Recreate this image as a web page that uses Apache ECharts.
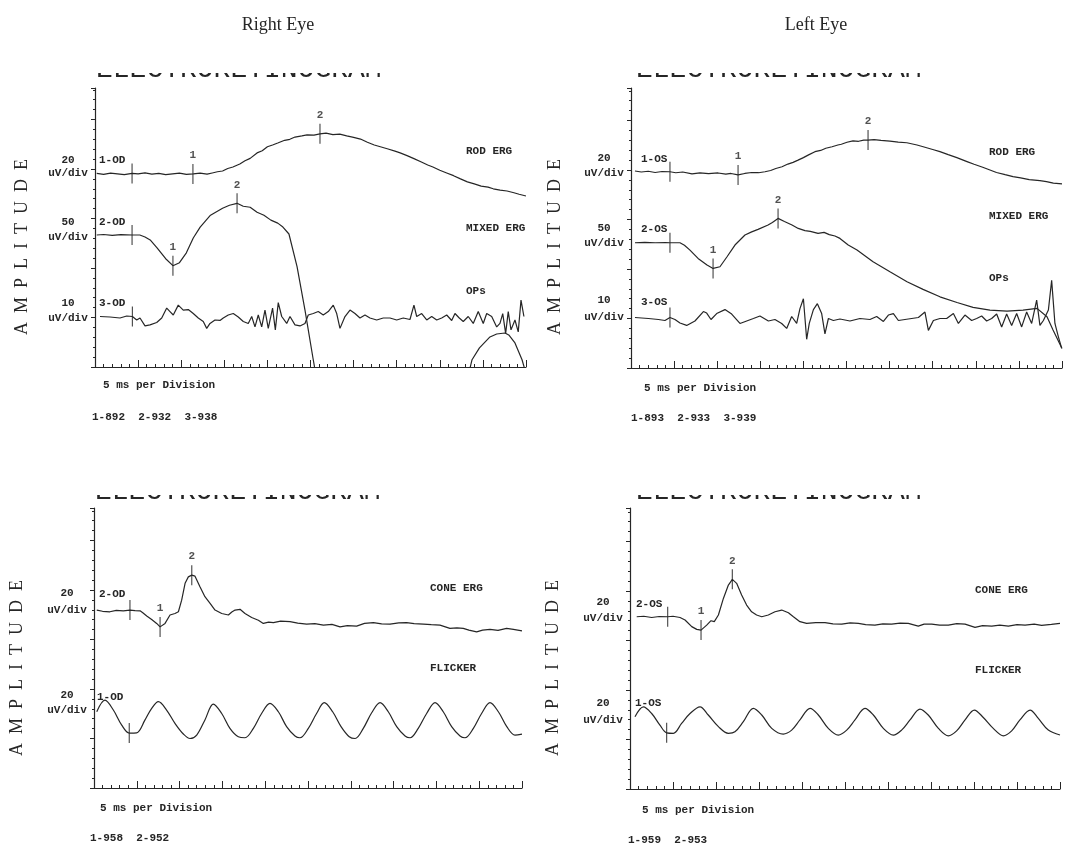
<!DOCTYPE html>
<html>
<head>
<meta charset="utf-8">
<title>ERG</title>
<script src="https://cdn.jsdelivr.net/npm/echarts@6/dist/echarts.min.js"></script>
<style>
  html, body { margin: 0; background: #fff; }
  #chart { width: 1066px; height: 850px; }
</style>
</head>
<body>
<div id="chart"></div>
<script>
// time in ms, amplitude in uV relative to the trace baseline

// Right eye, scotopic
const rodOD = [[1,0.2],[5,-0.2],[9,0.3],[13,0],[17,-0.3],[21.5,0.2],[25,0],[29,0.4],[33,-0.1],[37,0.2],[41,-0.3],[45,0],[49,0.3],[53,-0.2],[57,0],[61,0.3],[65,-0.1],[68,0.4],[71,0.9],[74,1.2],[77,2.2],[80,2.8],[84,4.0],[87,5.3],[90,6.3],[94,8.5],[97,9.4],[100,11],[103,11.7],[106,12.5],[110,13.6],[113,14],[116,14.9],[120,15.4],[123,15.8],[127,15.7],[130.5,16.2],[134,16.5],[138,15.9],[142,16.1],[146,15.4],[150,14.8],[154,14.1],[158,12.8],[162,11.7],[166,10.9],[170,10.1],[174,9.2],[177,8.5],[181,7.4],[185,6.2],[189,4.9],[193,3.6],[196,2.8],[200,1.5],[204,0.4],[208,-0.7],[212,-2.0],[216,-3.2],[220,-4.0],[224,-4.9],[228,-5.3],[231,-6.0],[235,-6.5],[239,-6.9],[243,-7.6],[246,-8.2],[250,-8.9]];
const mixedOD = [[1,0],[5,0.5],[10,-0.3],[15,0.3],[21.5,0],[26,0],[29,-2],[32,-5],[36,-13],[41,-24],[45.2,-31],[49,-28],[53,-18],[57,-3],[61,8],[67,20],[74,27],[78,30],[82.4,32],[86,29],[90,28],[94,23],[98,20],[102,15],[106,12],[109,8],[112.5,1],[117.2,-32],[121.8,-76],[126.5,-125],[129,-150],[170,-300],[214,-160],[218.7,-126],[223,-114],[229.1,-103],[233,-100],[237.8,-99],[240,-101],[243.6,-109],[247.7,-126],[250,-140]];
const opsOD = [[2.9,0.1],[8.7,0],[14.5,-0.2],[18.4,0.2],[21.7,0.1],[24.2,-0.6],[26.1,-0.2],[29,-1.8],[31.9,-1.6],[35.8,-1.1],[38.7,-0.2],[41.6,1.8],[43.5,1.1],[45.4,0.4],[48.3,2.4],[51.2,1.4],[54.1,1.5],[57,0.7],[59.9,-0.2],[62.8,-0.9],[64.8,-2.3],[66.7,-1.3],[69.6,-0.6],[72.5,-0.7],[74.4,-0.2],[77.3,0.4],[80.2,0.7],[83.1,0],[86,-0.9],[88.9,-1.3],[90.9,0.1],[92.8,-2.0],[94.7,0.4],[96.7,-2.0],[98.6,1.4],[100.5,-2.3],[103,1.8],[104.6,-2.6],[106.3,2.9],[108.3,0.1],[111.2,-1.3],[113.1,0.1],[116,-1.6],[118.9,-1.8],[121.8,-1.3],[123.7,0.4],[126.6,0.7],[129.5,1.1],[132.4,0.4],[135.3,1.1],[138.2,2.4],[140.2,0.7],[142.1,-2.3],[145,0.1],[147.9,1.4],[150.8,0.7],[153.7,-0.2],[156.6,0.4],[159.5,-0.2],[163.4,-0.6],[167.2,-0.2],[171.1,-0.2],[175,-0.6],[178.8,-0.2],[182.7,-0.5],[185,2.4],[186.6,0.1],[189.5,0.7],[192.4,-0.6],[195.3,0.1],[198.2,-0.6],[201.1,-0.2],[204,0.4],[206.9,-0.7],[208.8,0.7],[211.3,-0.2],[213.6,-0.9],[216.5,0.1],[219.4,-1.3],[222.3,1.1],[225.2,-1.3],[227.2,0.7],[230.1,0.1],[233,-2.0],[234.9,-1.3],[236.5,0.7],[238.2,-3.3],[239.7,1.1],[241.3,-2.6],[243.6,-0.6],[245.5,-3.0],[247.1,3.4],[248.8,0.1]];

// Left eye, scotopic
const rodOS = [[2.3,0.4],[6,0],[10,0.3],[14,-0.2],[18,0.2],[22.6,0.1],[26,-0.3],[30,0],[35.4,-0.8],[40,-0.4],[45,-0.7],[50.5,-0.4],[55,-0.9],[58,-0.6],[62.1,-1.2],[66,-0.6],[70,-0.2],[74,-0.3],[77.7,0.1],[81,0.6],[84,1.4],[87.6,2.1],[91,3.2],[94,3.9],[96.9,4.8],[100,5.8],[103,6.9],[106.7,8.2],[110,8.7],[113,9.6],[116.6,10.2],[120,10.9],[122,11.2],[125.3,12],[128.8,12.6],[132,12.4],[135,12.9],[137.5,12.9],[141,13.1],[145,12.8],[150.2,12.5],[155,12.1],[160,11.8],[165.9,10.9],[170,10.1],[175,9.1],[179.2,8.2],[184,7.0],[189,5.8],[194.9,4.2],[199,3.1],[204,1.9],[208.2,0.8],[212,-0.2],[217,-1.1],[221.6,-1.9],[226,-2.4],[231,-3.1],[237.2,-3.5],[241,-3.9],[245,-4.5],[250,-4.8]];
const mixedOS = [[2.3,0],[8,0.3],[14,0],[20,0.2],[22.6,0],[28.4,0],[31,-2.5],[34.2,-7.4],[38.9,-15.8],[44.1,-22.5],[47.6,-25.9],[51.6,-24.2],[55.7,-14.1],[60.3,-2.3],[66.1,7.8],[70,11],[73.7,13.5],[79.5,17.9],[82,20.5],[85.3,24.6],[89,21.5],[93.4,17.9],[97,14.5],[100.9,12.2],[104,11.5],[108.5,9.5],[112,10.5],[115,8.2],[118.3,6.8],[121.2,4.4],[126,-2.3],[131.1,-7.4],[140.4,-19.2],[150.2,-29.3],[160.1,-39.4],[169.4,-47.1],[179.2,-54.6],[189.1,-60.3],[198.4,-65.3],[208.2,-68.0],[218.1,-69.0],[227.4,-68.0],[235.5,-66.3],[241.3,-74.7],[244.8,-88.2],[250,-106.7]];
const opsOS = [[2.3,0],[10.1,-0.2],[15.9,-0.4],[19.7,-0.6],[22.6,0],[25.5,-0.4],[28.4,-1.1],[32.3,-1.6],[37.1,-0.7],[42,1.2],[43.9,0.9],[46.4,-0.4],[49.7,0.8],[54.5,1.6],[58.4,0.7],[63.2,-1.2],[67.1,-0.7],[71,-0.2],[74.8,0.3],[79.7,-0.7],[83.5,-0.4],[87.4,-1.2],[90.3,-2.2],[93.2,0.2],[96.1,-1.2],[98,1.8],[100,3.8],[101.9,-4.4],[103.4,-1.2],[105.8,1.6],[108.1,2.8],[110.6,0.8],[112.5,-3.3],[114.5,-0.2],[117.4,-0.6],[121.2,-0.3],[127,-0.7],[132.8,-0.2],[138.6,-0.4],[142.5,0.2],[146.4,-0.8],[149.3,0.5],[152.2,0.8],[155.1,-0.6],[158.9,-0.4],[162.8,-0.2],[166.7,0],[170.5,1.1],[172.5,-2.6],[175.4,-0.6],[179.2,-0.2],[183.1,-0.2],[187,0.8],[189.9,-1.2],[193.7,0.5],[197.6,-0.6],[200.5,-0.2],[203.4,0.3],[206.3,-0.7],[209.2,-0.2],[212.1,0.7],[215,-1.9],[217.9,0.7],[220.8,-1.6],[223.7,0.8],[226.6,-1.9],[229.5,1.1],[232.4,-1.2],[235.3,3.5],[237.2,-1.6],[239.2,-0.6],[242.1,1.5],[244,7.5],[245.9,-1.2],[247.9,-3.9],[249.8,-6.2]];

// Right eye, photopic
const coneOD = [[1.6,0.3],[5,-0.2],[9.3,-0.4],[13,0.2],[17.1,0],[21,0.3],[24,0.1],[26.9,0],[28.5,-0.8],[30.8,-2.1],[33.7,-3.5],[36.6,-5.1],[38.6,-6.5],[41.5,-5.1],[44.4,-1.7],[47.3,-1.1],[49.3,-0.4],[51.2,4.3],[53.2,11.1],[55.1,13.7],[57.1,14.4],[59,14],[61.9,9.7],[64.8,5.7],[67.8,3],[70.7,0.3],[74.6,-1.1],[78.5,-1.7],[80.5,-0.5],[82.4,0.3],[85.3,0.6],[88.2,-1.1],[92.1,-2.7],[96,-3.8],[98.9,-5.1],[102,-4.6],[104.8,-4.8],[109,-4.2],[114.5,-4.4],[119,-5.0],[124.2,-5.4],[129,-5.2],[134,-5.8],[139,-5.5],[143.7,-6.5],[148,-6.0],[153.4,-6.2],[158,-5.1],[163.2,-4.8],[168,-5.3],[172.9,-5.4],[178,-4.9],[182.6,-4.8],[187,-5.2],[192.4,-5.4],[197,-5.6],[202.1,-5.8],[207.9,-7.1],[212,-6.9],[215.7,-7.1],[219,-7.8],[223.5,-8.5],[227,-7.8],[231.3,-7.5],[236,-7.9],[241,-7.1],[245,-7.5],[250,-8.1]];
const flickerOD = [[1.6,8.6],[6.4,13.3],[11.3,9.3],[16.2,3.2],[20.6,0],[24.9,0.1],[29.8,5.3],[33.7,10],[37.6,12.7],[42.4,9.3],[47.3,3.9],[52.2,-0.4],[56.1,-2.2],[60,-0.8],[64.8,5.3],[69.7,11.7],[74.6,7.9],[79.4,1.9],[84.3,-1.5],[88.2,-1.9],[93.1,1.9],[97.9,7.9],[102.8,12],[107.7,8.6],[112.5,2.6],[117.4,-1.2],[120.3,-1.9],[125.2,1.9],[130,7.9],[134.5,12.3],[139.4,8.6],[144.3,2.6],[149.1,-1.5],[152.5,-2.2],[157.3,1.9],[162.2,8.2],[167.1,12.3],[171.9,8.6],[176.8,2.6],[181.7,-1.2],[184.6,-1.9],[189.4,1.9],[194.3,7.9],[199.2,12.3],[204,8.6],[208.9,2.6],[213.8,-1.2],[216.7,-1.9],[221.6,1.9],[226.4,7.9],[231.3,12.3],[236.2,8.6],[241.1,2.6],[245.9,-0.8],[250,-0.4]];

// Left eye, photopic
const coneOS = [[3.9,0],[8,0.2],[12.6,-0.3],[17,0.1],[21.9,0],[25,0.2],[29.1,-0.3],[32,-1.3],[35.9,-4.0],[38.8,-5.1],[41.3,-5.4],[44.6,-3.4],[47.1,-1.6],[49,-2.0],[51.4,0.7],[54.3,7.4],[57.2,12.8],[59.5,15.1],[62,13.5],[64.9,8.8],[67.8,4.7],[70.7,2.0],[73.6,0.7],[76.6,0],[80.4,0.7],[84.3,2.0],[88.2,2.7],[92.1,1.6],[95,0],[98.8,-2.0],[102.7,-2.7],[108,-2.4],[113.4,-2.4],[118,-2.9],[123.1,-3.0],[128,-2.5],[132.8,-2.7],[137,-3.2],[142.4,-3.4],[147,-2.9],[152.1,-3.0],[157,-2.6],[161.8,-2.7],[167.6,-3.8],[171,-3.0],[175.4,-3.0],[180,-3.4],[185.1,-3.4],[190,-2.8],[194.8,-3.0],[200.6,-4.3],[205,-3.6],[210.3,-3.8],[215,-3.4],[220,-3.8],[225,-3.2],[229.7,-3.4],[235,-3.0],[239.3,-3.5],[245,-3.1],[250,-2.7]];
const flickerOS = [[2.9,6.6],[7.8,10.6],[12.6,7.9],[17.4,3.2],[21.3,0.1],[25.2,-0.1],[30,3.9],[34.9,7.9],[40.7,10.6],[45.5,7.3],[51.4,2.6],[57.2,-0.1],[61,0.5],[65.9,4.6],[71.7,10],[76.6,7.3],[82.4,1.9],[89.1,-0.4],[94,1.2],[98.8,5.3],[104.7,10],[109.5,7.3],[115.3,1.9],[121.1,-0.8],[126,1.2],[130.8,5.3],[136.6,10],[141.5,7.3],[147.3,1.9],[153.1,-0.8],[157.9,1.2],[162.8,5.3],[168.6,9.7],[173.4,7.3],[179.3,1.9],[185.1,-1.1],[189.9,0.9],[194.8,5.3],[200.2,9.3],[205.4,6.3],[211.2,1.9],[217.1,-1.1],[221.9,0.9],[226.7,5.3],[232.6,9.3],[237.4,5.9],[243.2,1.2],[250,-0.8]];

// cursor marks: stimulus, 1, 2
const markNames = ['', '1', '2'];
const rodODMarks = [[21.5,0.2],[56.8,0],[130.5,16.2]];
const mixedODMarks = [[21.5,0],[45.2,-31],[82.4,32]];
const opsODMarks = [[21.7,0.1]];
const rodOSMarks = [[22.6,0.1],[62.1,-1.2],[137.5,12.9]];
const mixedOSMarks = [[22.6,0],[47.6,-25.9],[85.3,24.6]];
const opsOSMarks = [[22.6,0]];
const coneODMarks = [[21,0.3],[38.6,-6.5],[57.1,14.4]];
const flickerODMarks = [[20.6,0]];
const coneOSMarks = [[21.9,0],[41.3,-5.4],[59.5,15.1]];
const flickerOSMarks = [[21.3,0.1]];

const INK = '#262626';
const MONO = 'bold 11px "Liberation Mono"';
const DIV_PX = 49.5;  // one amplitude division on paper

// base = baseline height in divisions above the x axis
const panels = [
  { left: 95, top: 88, width: 431, height: 279, traces: [
    { data: rodOD, marks: rodODMarks, scale: 20, base: 3.90 },
    { data: mixedOD, marks: mixedODMarks, scale: 50, base: 2.667 },
    { data: opsOD, marks: opsODMarks, scale: 10, base: 1.01 }
  ]},
  { left: 631, top: 88, width: 431, height: 280, traces: [
    { data: rodOS, marks: rodOSMarks, scale: 20, base: 3.96 },
    { data: mixedOS, marks: mixedOSMarks, scale: 50, base: 2.53 },
    { data: opsOS, marks: opsOSMarks, scale: 10, base: 1.02 }
  ]},
  { left: 94, top: 508, width: 428, height: 280, traces: [
    { data: coneOD, marks: coneODMarks, scale: 20, base: 3.58 },
    { data: flickerOD, marks: flickerODMarks, scale: 20, base: 1.11, smooth: 0.35 }
  ]},
  { left: 630, top: 508, width: 430, height: 281, traces: [
    { data: coneOS, marks: coneOSMarks, scale: 20, base: 3.48 },
    { data: flickerOS, marks: flickerOSMarks, scale: 20, base: 1.13, smooth: 0.35 }
  ]}
];

const option = {
  animation: false,
  backgroundColor: '#fff',
  grid: [], xAxis: [], yAxis: [], series: [], graphic: []
};

panels.forEach(function (p, gi) {
  option.grid.push({ left: p.left, top: p.top, width: p.width, height: p.height });
  option.xAxis.push({
    type: 'value', gridIndex: gi, min: 0, max: 250, interval: 25,
    axisLine: { onZero: false, lineStyle: { color: INK, width: 1.2 } },
    axisTick: { inside: true, length: 7, lineStyle: { color: INK } },
    minorTick: { show: true, splitNumber: 5, length: 3, lineStyle: { color: INK } },
    axisLabel: { show: false }, splitLine: { show: false }
  });
  const totalDiv = p.height / DIV_PX;
  option.yAxis.push({
    type: 'value', gridIndex: gi, position: 'left', min: 0, max: totalDiv, interval: 1,
    axisLine: { show: true, onZero: false, lineStyle: { color: INK, width: 1.2 } },
    axisTick: { show: true, length: 4, lineStyle: { color: INK } },
    minorTick: { show: true, splitNumber: 5, length: 2, lineStyle: { color: INK } },
    axisLabel: { show: false }, splitLine: { show: false }
  });
  p.traces.forEach(function (tr) {
    const yi = option.yAxis.length;
    option.yAxis.push({
      type: 'value', gridIndex: gi, show: false,
      min: -tr.base * tr.scale, max: (totalDiv - tr.base) * tr.scale,
      splitLine: { show: false }
    });
    option.series.push({
      type: 'line', xAxisIndex: gi, yAxisIndex: yi, data: tr.data,
      showSymbol: false, smooth: tr.smooth || false, clip: true, silent: true,
      lineStyle: { color: INK, width: 1.2 }
    });
    option.series.push({
      type: 'scatter', xAxisIndex: gi, yAxisIndex: yi, silent: true,
      data: tr.marks.map(function (m, i) { return { value: m, name: markNames[i] }; }),
      symbol: 'rect', symbolSize: [1.2, 20],
      itemStyle: { color: INK },
      label: { show: true, position: 'top', distance: 3, formatter: '{b}',
        color: INK, fontFamily: 'Liberation Mono', fontWeight: 'bold', fontSize: 11 }
    });
  });
});

function txt(s, x, y, align, font, extra) {
  return Object.assign({
    type: 'text', x: x, y: y, silent: true, z: 10,
    style: { text: s, fill: INK, font: font || MONO,
      textAlign: align || 'left', align: align || 'left',
      textVerticalAlign: 'middle', verticalAlign: 'middle' }
  }, extra || {});
}

const SERIF = '18px "Liberation Serif"';
const labels = [
  ['Right Eye', 278, 25, 'center', SERIF], ['Left Eye', 816, 25, 'center', SERIF],
  // amplitude scales
  ['20', 68, 160, 'center'], ['uV/div', 68, 173, 'center'], ['50', 68, 222, 'center'], ['uV/div', 68, 237, 'center'],
  ['10', 68, 303, 'center'], ['uV/div', 68, 318, 'center'],
  ['20', 604, 158, 'center'], ['uV/div', 604, 173, 'center'], ['50', 604, 228, 'center'], ['uV/div', 604, 243, 'center'],
  ['10', 604, 300, 'center'], ['uV/div', 604, 317, 'center'],
  ['20', 67, 593, 'center'], ['uV/div', 67, 610, 'center'], ['20', 67, 695, 'center'], ['uV/div', 67, 710, 'center'],
  ['20', 603, 602, 'center'], ['uV/div', 603, 618, 'center'], ['20', 603, 703, 'center'], ['uV/div', 603, 720, 'center'],
  // channel ids
  ['1-OD', 99, 160], ['2-OD', 99, 222], ['3-OD', 99, 303],
  ['1-OS', 641, 159], ['2-OS', 641, 229], ['3-OS', 641, 302],
  ['2-OD', 99, 594], ['1-OD', 97, 697],
  ['2-OS', 636, 604], ['1-OS', 635, 703],
  // trace names
  ['ROD ERG', 466, 151], ['MIXED ERG', 466, 228], ['OPs', 466, 291],
  ['ROD ERG', 989, 152], ['MIXED ERG', 989, 216], ['OPs', 989, 278],
  ['CONE ERG', 430, 588], ['FLICKER', 430, 668],
  ['CONE ERG', 975, 590], ['FLICKER', 975, 670],
  // footers
  ['5 ms per Division', 103, 385], ['1-892  2-932  3-938', 92, 417],
  ['5 ms per Division', 644, 388], ['1-893  2-933  3-939', 631, 418],
  ['5 ms per Division', 100, 808], ['1-958  2-952', 90, 838],
  ['5 ms per Division', 642, 810], ['1-959  2-953', 628, 840]
];
labels.forEach(function (l) { option.graphic.push(txt(l[0], l[1], l[2], l[3], l[4])); });

// vertical AMPLITUDE captions
[[22, 247], [555, 247], [17, 668], [553, 668]].forEach(function (c) {
  option.graphic.push(txt('A  M  P  L  I  T  U  D  E', c[0], c[1], 'center', SERIF, { rotation: Math.PI / 2 }));
});

// printer header, only its lower half made it onto the page
[[96, 80], [636, 80], [95, 502], [636, 502]].forEach(function (h) {
  option.graphic.push({
    type: 'text', x: h[0], y: h[1] + 4, silent: true, z: 5,
    style: { text: 'ELECTRORETINOGRAM', fill: INK, font: '28px "Liberation Mono"',
      textVerticalAlign: 'bottom', verticalAlign: 'bottom' }
  });
  option.graphic.push({
    type: 'rect', silent: true, z: 6,
    shape: { x: h[0] - 4, y: h[1] - 50, width: 300, height: 43 },
    style: { fill: '#fff' }
  });
});

const chart = echarts.init(document.getElementById('chart'));
chart.setOption(option);
</script>
</body>
</html>
